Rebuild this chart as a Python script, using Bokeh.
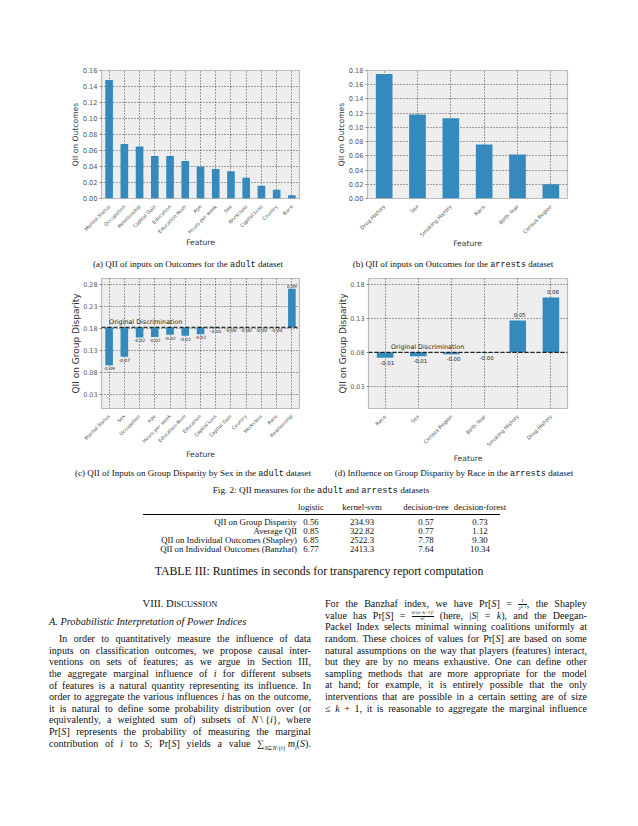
import math
from bokeh.plotting import figure
from bokeh.models import Range1d, FixedTicker, Span, NumeralTickFormatter, Div
from bokeh.layouts import column, row
from bokeh.embed import file_html
from bokeh.resources import INLINE
from bokeh.core.properties import value

# ---------------- data ----------------
a_features = ["Marital Status", "Occupation", "Relationship", "Capital Gain", "Education",
              "Education-Num", "Age", "Hours per week", "Sex", "Workclass", "Capital Loss",
              "Country", "Race"]
a_qii = [0.148, 0.068, 0.065, 0.053, 0.053, 0.047, 0.040, 0.037, 0.034, 0.026, 0.016, 0.011, 0.004]

b_features = ["Drug History", "Sex", "Smoking History", "Race", "Birth Year", "Census Region"]
b_qii = [0.175, 0.118, 0.113, 0.076, 0.062, 0.020]

c_features = ["Marital Status", "Sex", "Occupation", "Age", "Hours per week", "Education-Num",
              "Education", "Capital Loss", "Capital Gain", "Country", "Workclass", "Race",
              "Relationship"]
c_delta = [-0.086, -0.067, -0.023, -0.022, -0.017, -0.019, -0.016, -0.002, -0.0005, -0.0005,
           -0.0005, -0.0005, 0.087]
c_original = 0.182

d_features = ["Race", "Sex", "Census Region", "Birth Year", "Smoking History", "Drug History"]
d_delta = [-0.008, -0.006, -0.003, -0.0005, 0.047, 0.081]
d_original = 0.080

a_yticks = [0.00, 0.02, 0.04, 0.06, 0.08, 0.10, 0.12, 0.14, 0.16]
b_yticks = [0.00, 0.02, 0.04, 0.06, 0.08, 0.10, 0.12, 0.14, 0.16, 0.18]
c_yticks = [0.03, 0.08, 0.13, 0.18, 0.23, 0.28]
d_yticks = [0.03, 0.08, 0.13, 0.18]

table_methods = ["logistic", "kernel-svm", "decision-tree", "decision-forest"]
table_rows = ["QII on Group Disparity", "Average QII", "QII on Individual Outcomes (Shapley)",
              "QII on Individual Outcomes (Banzhaf)"]
table_logistic = ["0.56", "0.85", "6.85", "6.77"]
table_kernel_svm = ["234.93", "322.82", "2522.3", "2413.3"]
table_decision_tree = ["0.57", "0.77", "7.78", "7.64"]
table_decision_forest = ["0.73", "1.12", "9.30", "10.34"]

BAR = "#348ABD"


def make_fig(factors, width, height, bl, br, bt, bb, yr, ticks, ylabel, xfs, yfs, ylfs,
             xstand, ystand):
    p = figure(x_range=factors, y_range=Range1d(*yr), width=width, height=height,
               output_backend="svg", toolbar_location=None, title_location=None,
               min_border_left=bl, min_border_right=br, min_border_top=bt, min_border_bottom=bb)
    p.background_fill_color = "#eeeeee"
    p.border_fill_color = "white"
    p.outline_line_color = "#bcbcbc"
    p.outline_line_width = 1.2
    for g in (p.xgrid[0], p.ygrid[0]):
        g.grid_line_color = "#222222"
        g.grid_line_dash = "1 2"
        g.grid_line_width = 0.8
    xa = p.xaxis[0]
    xa.axis_label = "Feature"
    xa.major_label_orientation = math.pi / 4
    xa.major_label_text_font = "DejaVu Sans"
    xa.major_label_text_font_size = xfs
    xa.major_label_text_color = "#555555"
    xa.major_label_standoff = 1
    xa.axis_line_color = None
    xa.major_tick_line_color = None
    xa.minor_tick_line_color = None
    xa.axis_label_text_font = "DejaVu Sans"
    xa.axis_label_text_font_size = "7.6px"
    xa.axis_label_text_font_style = "normal"
    xa.axis_label_text_color = "#333333"
    xa.axis_label_standoff = xstand
    ya = p.yaxis[0]
    ya.ticker = FixedTicker(ticks=ticks)
    ya.formatter = NumeralTickFormatter(format="0.00")
    ya.axis_label = ylabel
    ya.major_label_text_font = "DejaVu Sans"
    ya.major_label_text_font_size = yfs
    ya.major_label_text_color = "#555555"
    ya.major_label_standoff = 2
    ya.axis_line_color = None
    ya.major_tick_line_color = "#888888"
    ya.major_tick_out = 2
    ya.major_tick_in = 0
    ya.minor_tick_line_color = None
    ya.axis_label_text_font = "DejaVu Sans"
    ya.axis_label_text_font_size = ylfs
    ya.axis_label_text_font_style = "normal"
    ya.axis_label_text_color = "#333333"
    ya.axis_label_standoff = ystand
    return p


# (a)
pa = make_fig(a_features, 319, 256, 101, 20, 70, 57, (0, 0.16), a_yticks, "QII on Outcomes",
              "4.9px", "6.6px", "7.6px", -2, 0)
pa.vbar(x=a_features, top=a_qii, width=0.5, fill_color=BAR, line_color=None)

# (b)
pb = make_fig(b_features, 311, 256, 48, 63, 69, 58, (0, 0.18), b_yticks, "QII on Outcomes",
              "5.2px", "6.6px", "7.6px", -4, 0)
pb.vbar(x=b_features, top=b_qii, width=0.5, fill_color=BAR, line_color=None)


def disparity(p, feats, deltas, base, lfs, dx, gap, tx):
    tops = [base + d for d in deltas]
    p.vbar(x=feats, bottom=base, top=tops, width=0.5, fill_color=BAR, line_color=None)
    p.add_layout(Span(location=base, dimension="width", line_color="black",
                      line_dash="4 2", line_width=1))
    labels = [f"{d:.2f}" for d in deltas]
    neg = [i for i, d in enumerate(deltas) if d < 0]
    pos = [i for i, d in enumerate(deltas) if d >= 0]
    p.text(x=[feats[i] for i in neg], y=[tops[i] for i in neg], text=[labels[i] for i in neg],
           text_font=value("DejaVu Sans"), text_font_size=value(lfs), text_color="#222222",
           text_align="center", text_baseline="top", x_offset=dx, y_offset=gap)
    p.text(x=[feats[i] for i in pos], y=[tops[i] for i in pos], text=[labels[i] for i in pos],
           text_font=value("DejaVu Sans"), text_font_size=value(lfs), text_color="#222222",
           text_align="center", text_baseline="bottom", x_offset=dx, y_offset=-gap)
    p.text(x=[feats[0]], y=[base], text=["Original Discrimination"],
           text_font=value("DejaVu Sans"), text_font_size=value("6.4px"), text_color="#222222",
           text_align="left", text_baseline="bottom", x_offset=tx, y_offset=-1)


# (c)
pc = make_fig(c_features, 319, 190, 101, 20, 1, 55, (-0.002, 0.2925), c_yticks,
              "QII on Group Disparity", "4.8px", "6.4px", "9.0px", 1, -1)
disparity(pc, c_features, c_delta, c_original, "4.4px", 0, 1, 0)

# (d)
pd_ = make_fig(d_features, 311, 190, 49, 63, 3, 56, (-0.003, 0.189), d_yticks,
               "QII on Group Disparity", "5.2px", "6.4px", "9.0px", 1, -1)
disparity(pd_, d_features, d_delta, d_original, "5.4px", 2, 3, 6)


# ---------------- text (HTML) ----------------
def box(x, yc, html, size, top0, align="left", w=400, font="Liberation Serif", lh=None, extra=""):
    lh = lh or size * 1.25
    top = yc - lh / 2 - top0
    if align == "center":
        left = x - w / 2
    elif align == "right":
        left = x - w
    else:
        left = x
    return (f'<div style="position:absolute;left:{left:.1f}px;top:{top:.1f}px;width:{w}px;'
            f'text-align:{align};font-family:\'{font}\';font-size:{size}px;line-height:{lh}px;'
            f'white-space:nowrap;color:#111;{extra}">{html}</div>')


MONO = "<span style=\"font-family:'Liberation Mono';font-size:0.95em\">{}</span>"
CAP = 9.0

# captions of row 1 (div starting at page y=256)
cap1 = []
cap1.append(box(188, 265, "(a) QII of inputs on Outcomes for the " + MONO.format("adult") + " dataset",
                CAP, 256, "center", 300))
cap1.append(box(453, 265, "(b) QII of inputs on Outcomes for the " + MONO.format("arrests") + " dataset",
                CAP, 256, "center", 300))
div1 = Div(text='<div style="position:relative;width:630px;height:19px;">' + "".join(cap1) + "</div>",
           width=630, height=19, margin=0)

T0 = 465
parts = []
parts.append(box(193, 474, "(c) QII of Inputs on Group Disparity by Sex in the " + MONO.format("adult") + " dataset",
                 CAP, T0, "center", 300))
parts.append(box(454, 474, "(d) Influence on Group Disparity by Race in the " + MONO.format("arrests") + " dataset",
                 CAP, T0, "center", 300))
parts.append(box(321, 491, "Fig. 2: QII measures for the " + MONO.format("adult") + " and "
                 + MONO.format("arrests") + " datasets", 9.2, T0, "center", 400))

# table
TF = 8.8
col_centers = [311, 362, 426, 480]
cols = [table_logistic, table_kernel_svm, table_decision_tree, table_decision_forest]
for j, m in enumerate(table_methods):
    parts.append(box(col_centers[j], 507, m, TF, T0, "center", 80))
parts.append(f'<div style="position:absolute;left:143px;top:{514 - T0}px;width:357px;'
             f'height:0;border-top:1px solid #000;"></div>')
row_y = [522, 531.3, 540.6, 549.9]
for i, rname in enumerate(table_rows):
    parts.append(box(297, row_y[i], rname, TF, T0, "right", 220))
    for j in range(4):
        parts.append(box(col_centers[j], row_y[i], cols[j][i], TF, T0, "center", 80))
parts.append(box(319, 571, "TABLE III: Runtimes in seconds for transparency report computation",
                 11.8, T0, "center", 440))

# body text
FRAC = ("<span style=\"display:inline-flex;flex-direction:column;vertical-align:middle;"
        "font-size:5px;line-height:4.5px;text-align:center\"><span style=\"border-bottom:0.6px "
        "solid #111\">{}</span><span>{}</span></span>")
SUBS = {
    "{i}": "<i>i</i>",
    "{S}": "<i>S</i>",
    "{k}": "<i>k</i>",
    "{PrS}": "Pr[<i>S</i>]",
    "{NI}": "<i>N</i>&#8201;\\&#8201;{<i>i</i>},",
    "{SUM}": "&#8721;<sub style=\"font-size:6px\"><i>S</i>&#8838;<i>N</i>\\{<i>i</i>}</sub>"
             "&#8201;<i>m</i><sub style=\"font-size:6px\"><i>i</i></sub>(<i>S</i>).",
    "{F1}": FRAC.format("1", "2<span style=\"font-size:3.8px;vertical-align:1.5px\"><i>n</i>&#8722;1</span>") + ",",
    "{F2}": FRAC.format("<i>k</i>!(<i>n</i>&#8722;<i>k</i>&#8722;1)!", "<i>n</i>!"),
    "{absS}": "|<i>S</i>|",
}


def expand(tok):
    for k, v in SUBS.items():
        tok = tok.replace(k, v)
    return tok


def jline(x0, w, yc, text, size, lh):
    toks = [expand(t) for t in text.split(" ")]
    spans = "".join(f"<span>{t}</span>" for t in toks)
    top = yc - lh / 2 - T0
    return (f'<div style="position:absolute;left:{x0:.1f}px;top:{top:.1f}px;width:{w}px;height:{lh}px;'
            f'display:flex;justify-content:space-between;align-items:baseline;white-space:nowrap;'
            f'font-family:\'Liberation Serif\';font-size:{size}px;line-height:{lh}px;color:#111;">'
            f'{spans}</div>')


left_lines = [
    "In order to quantitatively measure the influence of data",
    "inputs on classification outcomes, we propose causal inter-",
    "ventions on sets of features; as we argue in Section III,",
    "the aggregate marginal influence of {i} for different subsets",
    "of features is a natural quantity representing its influence. In",
    "order to aggregate the various influences {i} has on the outcome,",
    "it is natural to define some probability distribution over (or",
    "equivalently, a weighted sum of) subsets of {NI} where",
    "{PrS} represents the probability of measuring the marginal",
    "contribution of {i} to {S}; {PrS} yields a value {SUM}",
]
right_lines = [
    "For the Banzhaf index, we have {PrS} = {F1} the Shapley",
    "value has {PrS} = {F2} (here, {absS} = {k}), and the Deegan-",
    "Packel Index selects minimal winning coalitions uniformly at",
    "random. These choices of values for {PrS} are based on some",
    "natural assumptions on the way that players (features) interact,",
    "but they are by no means exhaustive. One can define other",
    "sampling methods that are more appropriate for the model",
    "at hand; for example, it is entirely possible that the only",
    "interventions that are possible in a certain setting are of size",
    "&#8804; {k} + 1, it is reasonable to aggregate the marginal influence",
]

FS = 10.1
LH = 11.6
LX0, LW = 49, 262
RX0, RW = 325, 262
parts.append(box(LX0 + LW / 2, 604, "VIII. D<span style=\"font-size:0.8em\">ISCUSSION</span>",
                 10.6, T0, "center", 200))
parts.append(box(LX0, 622, "<i>A. Probabilistic Interpretation of Power Indices</i>", 10.3, T0, "left", 260))
for k, ln in enumerate(left_lines):
    indent = 10 if k == 0 else 0
    parts.append(jline(LX0 + indent, LW - indent, 639 + LH * k, ln, FS, LH))
for k, ln in enumerate(right_lines):
    parts.append(jline(RX0, RW, 604 + LH * k, ln, FS, LH))

div2 = Div(text=f'<div style="position:relative;width:630px;height:353px;">' + "".join(parts) + "</div>",
           width=630, height=353, margin=0)

layout = column(row(pa, pb, spacing=0), div1, row(pc, pd_, spacing=0), div2, spacing=0)

open("out.html", "w").write(file_html(layout, INLINE))
